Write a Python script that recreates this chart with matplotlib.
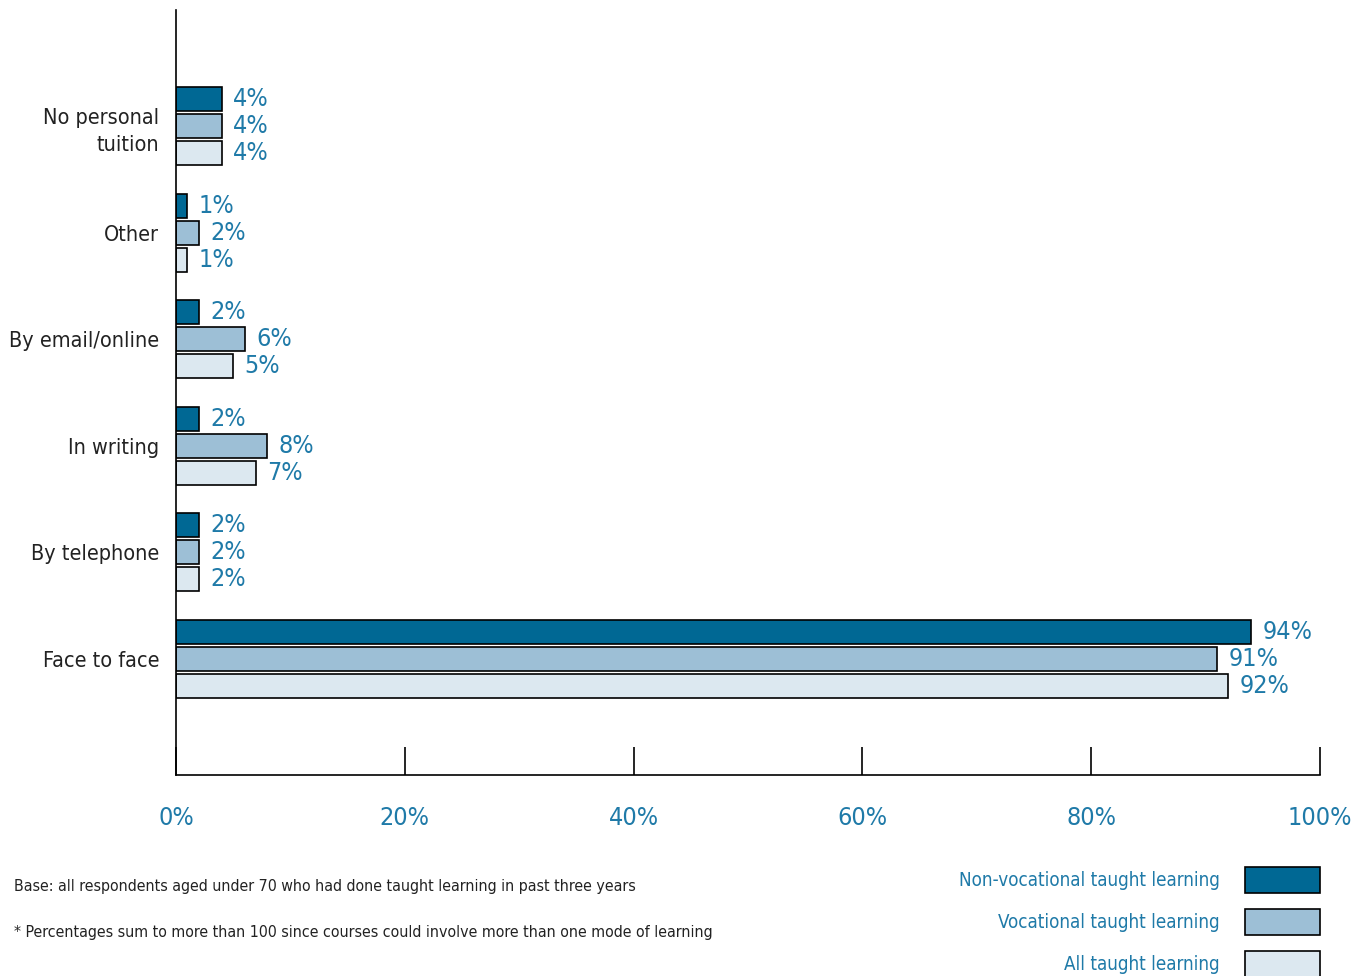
import matplotlib
matplotlib.use('Agg')
import matplotlib.pyplot as plt
from matplotlib.patches import Rectangle
import numpy as np

# categories from bottom to top
categories = ['Face to face', 'By telephone', 'In writing', 'By email/online', 'Other', 'No personal\ntuition']
non_vocational = [94, 2, 2, 2, 1, 4]
vocational = [91, 2, 8, 6, 2, 4]
all_taught = [92, 2, 7, 5, 1, 4]

series_names = ['Non-vocational taught learning', 'Vocational taught learning', 'All taught learning']
colors = ['#006894', '#9dbfd6', '#dce8f0']
text_blue = '#1f7aa8'

xticks = [0, 20, 40, 60, 80, 100]
xtick_labels = ['0%', '20%', '40%', '60%', '80%', '100%']

plt.rcParams['font.family'] = ['DejaVu Sans']
plt.rcParams['font.stretch'] = 'condensed'


def main():
    fig = plt.figure(figsize=(13.67, 9.76), dpi=100)
    ax = fig.add_axes([0.1287, 0.2059, 0.8369, 0.7839])

    y = np.arange(len(categories))
    offset = 0.253
    height = 0.225
    series = [non_vocational, vocational, all_taught]

    for i, vals in enumerate(series):
        pos = y + offset * (1 - i)
        ax.barh(pos, vals, height=height, color=colors[i], edgecolor='black', linewidth=1.2)
        for p, v in zip(pos, vals):
            ax.text(v + 1.0, p, f'{v}%', va='center', ha='left', fontsize=18, color=text_blue)

    ax.set_xlim(0, 100)
    ax.set_ylim(-1.09, 6.09)

    ax.set_yticks(y)
    ax.set_yticklabels(categories, fontsize=15.5, color='#222222', linespacing=1.45)
    ax.tick_params(axis='y', length=0, pad=12)

    ax.set_xticks(xticks)
    ax.set_xticklabels(xtick_labels, fontsize=18, color=text_blue)
    ax.tick_params(axis='x', direction='in', length=20, width=1.2, pad=22)

    for s in ['top', 'right']:
        ax.spines[s].set_visible(False)
    ax.spines['left'].set_linewidth(1.2)
    ax.spines['bottom'].set_linewidth(1.2)

    # footnotes
    fig.text(14 / 1367, 1 - 887 / 976, 'Base: all respondents aged under 70 who had done taught learning in past three years',
             fontsize=11.4, color='#222222', va='center', ha='left')
    fig.text(14 / 1367, 1 - 933 / 976, '* Percentages sum to more than 100 since courses could involve more than one mode of learning',
             fontsize=11.4, color='#222222', va='center', ha='left')

    # legend drawn on the right
    leg_y = [880, 922, 964]
    for name, c, yy in zip(series_names, colors, leg_y):
        fig.patches.append(Rectangle((1245 / 1367, 1 - (yy + 13) / 976), 75 / 1367, 26 / 976,
                                     transform=fig.transFigure, facecolor=c, edgecolor='black', linewidth=1.2))
        fig.text(1220 / 1367, 1 - yy / 976, name, fontsize=13.5, color=text_blue, ha='right', va='center')

    fig.savefig('out.png', dpi=100)


if __name__ == '__main__':
    main()
